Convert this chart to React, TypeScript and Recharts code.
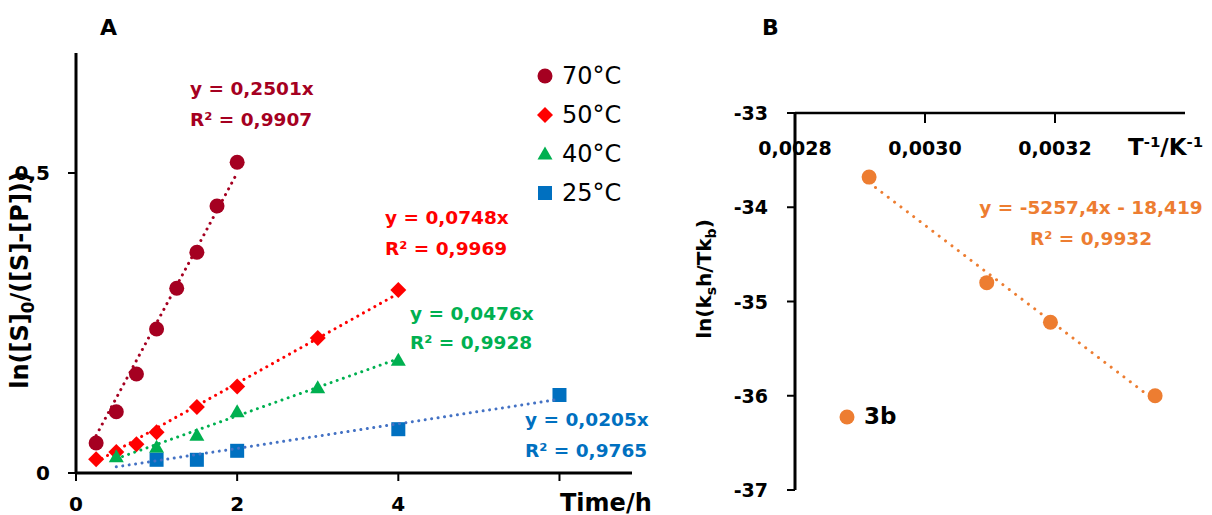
import React from 'react';
import { ScatterChart, Scatter, XAxis, YAxis, Legend } from 'recharts';

// panel A: first-order plots, ln([S]0/([S]-[P])) vs time (h)
const seriesNames = ['70°C', '50°C', '40°C', '25°C'];
const times70 = [0.25, 0.5, 0.75, 1, 1.25, 1.5, 1.75, 2];
const vals70 = [0.05, 0.102, 0.165, 0.24, 0.308, 0.368, 0.445, 0.518];
const times50 = [0.25, 0.5, 0.75, 1, 1.5, 2, 3, 4];
const vals50 = [0.023, 0.035, 0.048, 0.068, 0.11, 0.144, 0.225, 0.305];
const times40 = [0.5, 1, 1.5, 2, 3, 4];
const vals40 = [0.027, 0.043, 0.063, 0.102, 0.142, 0.188];
const times25 = [1, 1.5, 2, 4, 6];
const vals25 = [0.022, 0.022, 0.037, 0.073, 0.13];

// fitted slopes (through origin) and the x-range each trendline covers
const slopes = { t70: 0.2501, t50: 0.0748, t40: 0.0476, t25: 0.0205 };
const fitRanges = { t70: [0.25, 2], t50: [0.25, 4], t40: [0.5, 4], t25: [0.5, 6] };

const timeTicks = [0, 2, 4, 6];
const yTicksA = [0, 0.5];

// panel B: Eyring plot
const invT = [0.002914, 0.003095, 0.003193, 0.003354];
const lnK = [-33.68, -34.8, -35.22, -36.0];
const eyringSlope = -5257.4;
const eyringIntercept = -18.419;
const invTTicks = [0.0028, 0.003, 0.0032];
const yTicksB = [-37, -36, -35, -34, -33];

const C70 = '#A50021';
const C50 = '#FF0000';
const C40 = '#00B050';
const C25 = '#0070C0';
const C25line = '#4472C4';
const ORANGE = '#ED7D31';
const FONT = '"DejaVu Sans", sans-serif';

const pts = (xs: number[], ys: number[]) => xs.map((x, i) => ({ x, y: ys[i] }));
const trend = (slope: number, intercept: number, r: number[]) =>
  r.map((x) => ({ x, y: slope * x + intercept }));

type Kind = 'circle' | 'diamond' | 'triangle' | 'square';

function Marker({ kind, cx, cy, color }: { kind: Kind; cx: number; cy: number; color: string }) {
  if (kind === 'circle') return <circle cx={cx} cy={cy} r={7.5} fill={color} />;
  if (kind === 'diamond')
    return <path d={`M${cx},${cy - 8}L${cx + 8},${cy}L${cx},${cy + 8}L${cx - 8},${cy}Z`} fill={color} />;
  if (kind === 'triangle')
    return <path d={`M${cx},${cy - 7.5}L${cx + 7.5},${cy + 5.5}L${cx - 7.5},${cy + 5.5}Z`} fill={color} />;
  return <rect x={cx - 7} y={cy - 7} width={14} height={14} fill={color} />;
}

const shapeOf = (kind: Kind, color: string) => (p: any) => (
  <Marker kind={kind} cx={p.cx} cy={p.cy} color={color} />
);
const noShape = () => <g />;

function LegendRows({ payload, bold, size, order }: any) {
  const items = (payload || [])
    .filter((e: any) => e.type !== 'none' && order.includes(e.value))
    .sort((a: any, b: any) => order.indexOf(a.value) - order.indexOf(b.value));
  return (
    <div>
      {items.map((e: any) => (
        <div key={e.value} style={{ display: 'flex', alignItems: 'center', height: 39 }}>
          <svg width={18} height={18}>
            <Marker kind={e.type} cx={9} cy={9} color={e.color} />
          </svg>
          <span style={{ marginLeft: 8, fontSize: size, fontWeight: bold ? 700 : 400, color: '#000', fontFamily: FONT, lineHeight: 1 }}>
            {e.value}
          </span>
        </div>
      ))}
    </div>
  );
}

function Note({ x, y, color = '#000', size = 18.5, bold = true, center = false, rotate = false, children }: any) {
  const tr = rotate ? 'translate(-50%,-50%) rotate(-90deg)' : center ? 'translate(-50%,-50%)' : 'translateY(-50%)';
  return (
    <div
      style={{
        position: 'absolute', left: x, top: y, transform: tr, whiteSpace: 'nowrap', lineHeight: 1,
        color, fontSize: size, fontWeight: bold ? 700 : 400, fontFamily: FONT,
      }}
    >
      {children}
    </div>
  );
}

// y tick text placed a fixed distance left of the axis line
const yTick = (axisX: number, gap: number, size: number, fmt: (v: number) => string) => (p: any) => (
  <text x={axisX - gap} y={p.y} textAnchor="end" dominantBaseline="central"
    fill="#000" fontSize={size} fontWeight={700} fontFamily={FONT}>
    {fmt(p.payload.value)}
  </text>
);

const tickStyle = (size: number) => ({ fill: '#000', fontSize: size, fontWeight: 700, fontFamily: FONT });
const comma = (v: number) => String(v).replace('.', ',');
const dotted = (color: string, gap: number) => ({
  stroke: color, strokeWidth: 3, strokeDasharray: `0.01 ${gap}`, strokeLinecap: 'round' as const,
});

export default function App() {
  return (
    <div style={{ position: 'absolute', left: 0, top: 0, width: 1212, height: 515, background: '#fff', fontFamily: FONT }}>
      <div style={{ position: 'absolute', left: 0, top: 0 }}>
        <ScatterChart width={700} height={515} margin={{ top: 53, right: 68, bottom: 0, left: 0 }}>
          <XAxis
            type="number" dataKey="x" domain={[0, 6.9]} ticks={timeTicks} interval={0}
            tickFormatter={(v: number) => (v === 6 ? '' : String(v))}
            height={42} tickSize={8} tickMargin={16}
            axisLine={{ stroke: '#000', strokeWidth: 3 }} tickLine={{ stroke: '#000', strokeWidth: 2 }}
            tick={tickStyle(20)}
          />
          <YAxis
            type="number" dataKey="y" domain={[0, 0.7]} ticks={yTicksA} interval={0}
            width={76} tickSize={8}
            axisLine={{ stroke: '#000', strokeWidth: 3 }} tickLine={{ stroke: '#000', strokeWidth: 2 }}
            tick={yTick(76, 26, 20, comma)}
          />
          <Scatter name="70°C" data={pts(times70, vals70)} fill={C70} legendType="circle" shape={shapeOf('circle', C70)} isAnimationActive={false} />
          <Scatter name="50°C" data={pts(times50, vals50)} fill={C50} legendType="diamond" shape={shapeOf('diamond', C50)} isAnimationActive={false} />
          <Scatter name="40°C" data={pts(times40, vals40)} fill={C40} legendType="triangle" shape={shapeOf('triangle', C40)} isAnimationActive={false} />
          <Scatter name="25°C" data={pts(times25, vals25)} fill={C25} legendType="square" shape={shapeOf('square', C25)} isAnimationActive={false} />
          <Scatter data={trend(slopes.t70, 0, fitRanges.t70)} line={dotted(C70, 6.5)} shape={noShape} legendType="none" isAnimationActive={false} />
          <Scatter data={trend(slopes.t50, 0, fitRanges.t50)} line={dotted(C50, 6.5)} shape={noShape} legendType="none" isAnimationActive={false} />
          <Scatter data={trend(slopes.t40, 0, fitRanges.t40)} line={dotted(C40, 6.5)} shape={noShape} legendType="none" isAnimationActive={false} />
          <Scatter data={trend(slopes.t25, 0, fitRanges.t25)} line={dotted(C25line, 6.5)} shape={noShape} legendType="none" isAnimationActive={false} />
          <Legend
            layout="vertical" align="center" verticalAlign="middle"
            wrapperStyle={{ left: 536, top: 56, width: 120 }}
            content={(p: any) => <LegendRows payload={p.payload} size={24} order={seriesNames} />}
          />
        </ScatterChart>
      </div>

      <div style={{ position: 'absolute', left: 700, top: 0 }}>
        <ScatterChart width={512} height={515} margin={{ top: 113, right: 27, bottom: 25, left: 0 }}>
          <XAxis
            type="number" dataKey="x" orientation="top" mirror domain={[0.0028, 0.0034]} ticks={invTTicks} interval={0}
            tickFormatter={(v: number) => v.toFixed(4).replace('.', ',')}
            height={30} tickSize={10} tickMargin={19}
            axisLine={{ stroke: '#000', strokeWidth: 2.5 }} tickLine={{ stroke: '#000', strokeWidth: 2 }}
            tick={tickStyle(19)}
          />
          <YAxis
            type="number" dataKey="y" domain={[-37, -33]} ticks={yTicksB} interval={0}
            width={95} tickSize={8}
            axisLine={{ stroke: '#000', strokeWidth: 3 }} tickLine={{ stroke: '#000', strokeWidth: 2 }}
            tick={yTick(95, 27, 19, (v) => String(v))}
          />
          <Scatter name="3b" data={pts(invT, lnK)} fill={ORANGE} legendType="circle" shape={shapeOf('circle', ORANGE)} isAnimationActive={false} />
          <Scatter
            data={trend(eyringSlope, eyringIntercept, [invT[0], invT[invT.length - 1]])}
            line={dotted(ORANGE, 8)} shape={noShape} legendType="none" isAnimationActive={false}
          />
          <Legend
            layout="vertical" align="center" verticalAlign="middle"
            wrapperStyle={{ left: 138, top: 397, width: 80 }}
            content={(p: any) => <LegendRows payload={p.payload} size={23} bold order={['3b']} />}
          />
        </ScatterChart>
      </div>

      {/* panel titles, axis titles and trendline equations */}
      <Note x={100} y={28} size={22}>A</Note>
      <Note x={762} y={28} size={22}>B</Note>
      <Note x={22} y={280} size={24} rotate>
        ln([S]<sub style={{ fontSize: '0.7em' }}>0</sub>/([S]-[P]))
      </Note>
      <Note x={560} y={503} size={24}>Time/h</Note>
      <Note x={706} y={279} size={20} rotate>
        ln(k<sub style={{ fontSize: '0.7em' }}>s</sub>h/Tk<sub style={{ fontSize: '0.7em' }}>b</sub>)
      </Note>
      <Note x={1128} y={147} size={23}>
        T<sup style={{ fontSize: '0.65em' }}>-1</sup>/K<sup style={{ fontSize: '0.65em' }}>-1</sup>
      </Note>

      <Note x={190} y={89} color={C70}>y = 0,2501x</Note>
      <Note x={190} y={120} color={C70}>R² = 0,9907</Note>
      <Note x={385} y={218} color={C50}>y = 0,0748x</Note>
      <Note x={385} y={249} color={C50}>R² = 0,9969</Note>
      <Note x={410} y={314} color={C40}>y = 0,0476x</Note>
      <Note x={410} y={343} color={C40}>R² = 0,9928</Note>
      <Note x={525} y={420} color={C25}>y = 0,0205x</Note>
      <Note x={525} y={451} color={C25}>R² = 0,9765</Note>
      <Note x={1091} y={208} color={ORANGE} center>y = -5257,4x - 18,419</Note>
      <Note x={1091} y={239} color={ORANGE} center>R² = 0,9932</Note>
    </div>
  );
}
